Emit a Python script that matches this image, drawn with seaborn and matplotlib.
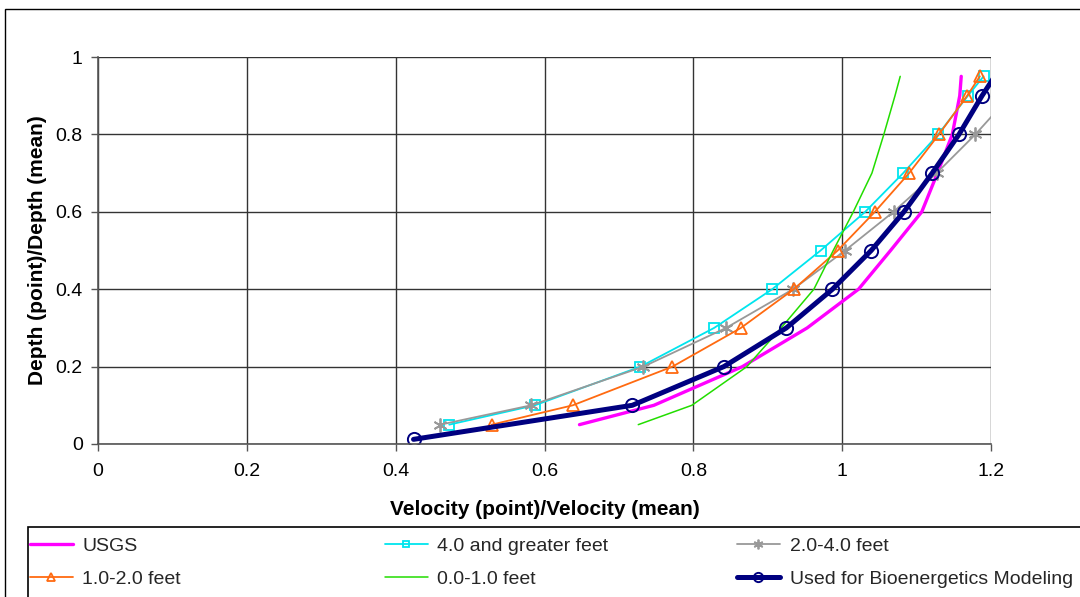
import matplotlib
matplotlib.use("Agg")
import matplotlib.pyplot as plt
import matplotlib.patches as mpatches
import numpy as np
import pandas as pd
import seaborn as sns

# Relative depth (point depth / mean depth) for each velocity profile
usgs_depth = [0.05, 0.10, 0.20, 0.30, 0.40, 0.50, 0.60, 0.70, 0.80, 0.90, 0.95]
usgs_vel = [0.647, 0.747, 0.866, 0.953, 1.022, 1.065, 1.107, 1.128, 1.148, 1.158, 1.160]

deep_depth = [0.05, 0.10, 0.20, 0.30, 0.40, 0.50, 0.60, 0.70, 0.80, 0.90, 0.95]
deep_vel = [0.472, 0.587, 0.729, 0.828, 0.906, 0.971, 1.031, 1.082, 1.129, 1.169, 1.190]

mid_depth = [0.05, 0.10, 0.20, 0.30, 0.40, 0.50, 0.60, 0.70, 0.80, 0.90]
mid_vel = [0.460, 0.582, 0.733, 0.844, 0.934, 1.004, 1.069, 1.127, 1.179, 1.226]

low_depth = [0.05, 0.10, 0.20, 0.30, 0.40, 0.50, 0.60, 0.70, 0.80, 0.90, 0.95]
low_vel = [0.529, 0.638, 0.772, 0.864, 0.935, 0.994, 1.044, 1.090, 1.130, 1.168, 1.185]

shallow_depth = [0.05, 0.10, 0.20, 0.30, 0.40, 0.50, 0.60, 0.70, 0.80, 0.90, 0.95]
shallow_vel = [0.726, 0.798, 0.872, 0.918, 0.962, 0.988, 1.015, 1.040, 1.056, 1.071, 1.078]

model_depth = [0.012, 0.10, 0.20, 0.30, 0.40, 0.50, 0.60, 0.70, 0.80, 0.90, 0.95]
model_vel = [0.424, 0.718, 0.841, 0.925, 0.987, 1.039, 1.083, 1.121, 1.157, 1.188, 1.205]

x_ticks = [0, 0.2, 0.4, 0.6, 0.8, 1.0, 1.2]
y_ticks = [0, 0.2, 0.4, 0.6, 0.8, 1.0]

series = [
    ("USGS", usgs_vel, usgs_depth,
     dict(color="#FF00FF", lw=2.4, marker=None)),
    ("4.0 and greater feet", deep_vel, deep_depth,
     dict(color="#00E5EE", lw=1.3, marker="s", ms=7, mfc="none", mew=1.3)),
    ("2.0-4.0 feet", mid_vel, mid_depth,
     dict(color="#999999", lw=1.3, marker=(6, 2, 0), ms=10, mew=1.3)),
    ("1.0-2.0 feet", low_vel, low_depth,
     dict(color="#FF6A10", lw=1.3, marker="^", ms=9, mfc="none", mew=1.3)),
    ("0.0-1.0 feet", shallow_vel, shallow_depth,
     dict(color="#22DD00", lw=1.1, marker=None)),
    ("Used for Bioenergetics Modeling", model_vel, model_depth,
     dict(color="#000080", lw=3.6, marker="o", ms=9.5, mfc="none", mew=1.4)),
]

sns.set_theme(style="white")
plt.rcParams["font.family"] = ["Liberation Sans", "DejaVu Sans"]

fig = plt.figure(figsize=(10.8, 5.97), dpi=100)
W, H = 1080, 597
ax = fig.add_axes([98 / W, 1 - 444 / H, (991 - 98) / W, (444 - 57) / H])

handles = {}
for name, xs, ys, style in series:
    df = pd.DataFrame({"vel": xs, "depth": ys})
    st = dict(style)
    kw = dict(color=st.pop("color"), linewidth=st.pop("lw"))
    mk = st.pop("marker")
    if mk is not None:
        kw.update(marker=mk, markersize=st.get("ms"), markeredgewidth=st.get("mew"),
                  markerfacecolor=st.get("mfc", kw["color"]), markeredgecolor=kw["color"])
    sns.lineplot(data=df, x="vel", y="depth", sort=False, estimator=None, ax=ax, **kw)
    line = ax.lines[-1]
    if name == "Used for Bioenergetics Modeling":
        line.set_markevery(list(range(len(xs) - 1)))
    handles[name] = plt.Line2D([], [], color=kw["color"], linewidth=kw["linewidth"],
                               marker=mk if mk is not None else None,
                               markersize=(st.get("ms") or 0) * 0.7,
                               markeredgewidth=st.get("mew", 1),
                               markerfacecolor=st.get("mfc", kw["color"]),
                               markeredgecolor=kw["color"])

ax.set_xlim(0, 1.2)
ax.set_ylim(0, 1.0)
ax.set_xticks(x_ticks)
ax.set_yticks(y_ticks)
ax.set_xticklabels([f"{v:g}" for v in x_ticks])
ax.set_yticklabels([f"{v:g}" for v in y_ticks])
ax.grid(True, color="#333333", linewidth=1.0)
for s in ["top", "right"]:
    ax.spines[s].set_visible(False)
for s in ["left", "bottom"]:
    ax.spines[s].set_color("#555555")
    ax.spines[s].set_linewidth(1.2)
ax.tick_params(axis="both", which="major", direction="out", length=5, width=1,
               color="#555555", labelsize=14, labelcolor="black", left=True, bottom=True)
ax.tick_params(axis="x", pad=9)
ax.tick_params(axis="y", pad=6)
ax.set_xlabel("Velocity (point)/Velocity (mean)", fontsize=15, fontweight="bold",
              color="black", labelpad=14)
ax.set_ylabel("Depth (point)/Depth (mean)", fontsize=15, fontweight="bold",
              color="black", labelpad=6)

# Outer chart border and legend box
fig.patches.append(mpatches.Rectangle((5 / W, -0.1), 1.2, 1 - 9 / H + 0.1, transform=fig.transFigure,
                                      fill=False, edgecolor="black", linewidth=1.0))
fig.patches.append(mpatches.Rectangle((28 / W, -0.1), 1.2, 1 - 527 / H + 0.1, transform=fig.transFigure,
                                      fill=False, edgecolor="black", linewidth=1.2))

# Legend laid out in three columns, filled row by row
columns = [
    (30, ["USGS", "1.0-2.0 feet"]),
    (385, ["4.0 and greater feet", "0.0-1.0 feet"]),
    (737, ["2.0-4.0 feet", "Used for Bioenergetics Modeling"]),
]
for x0, names in columns:
    fig.legend([handles[n] for n in names], names, ncol=1,
               loc="upper left", bbox_to_anchor=(x0 / W, 1 - 537 / H),
               frameon=False, fontsize=14, handlelength=2.2,
               handletextpad=0.5, labelspacing=0.82, borderaxespad=0, borderpad=0)

fig.savefig("out.png", dpi=100)
